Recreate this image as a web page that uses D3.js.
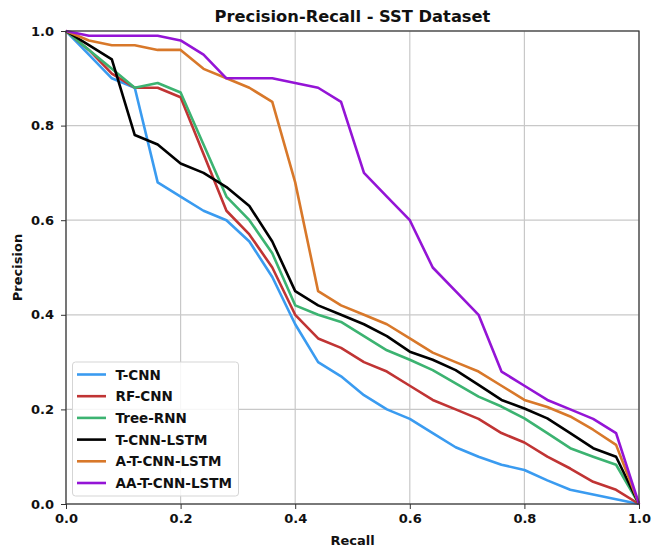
<!DOCTYPE html>
<html><head><meta charset="utf-8">
<script src="https://cdn.jsdelivr.net/npm/d3@7"></script>
<style>body{margin:0;background:#fff;} text{font-family:"DejaVu Sans",sans-serif;font-weight:bold;}</style>
</head><body>
<svg id="chart" width="665" height="549"></svg>
<script>
const recall = [0,0.04,0.08,0.12,0.16,0.2,0.24,0.28,0.32,0.36,0.4,0.44,0.48,0.52,0.56,0.6,0.64,0.68,0.72,0.76,0.8,0.84,0.88,0.92,0.96,1.0];
const seriesNames = ["T-CNN","RF-CNN","Tree-RNN","T-CNN-LSTM","A-T-CNN-LSTM","AA-T-CNN-LSTM"];
const tcnn    = [1.0,0.95,0.90,0.88,0.68,0.65,0.62,0.60,0.555,0.48,0.38,0.30,0.27,0.23,0.20,0.18,0.15,0.12,0.10,0.083,0.072,0.05,0.03,0.02,0.01,0.0];
const rfcnn   = [1.0,0.96,0.91,0.88,0.88,0.86,0.74,0.62,0.57,0.50,0.40,0.35,0.33,0.30,0.28,0.25,0.22,0.20,0.18,0.15,0.13,0.10,0.075,0.047,0.03,0.0];
const treernn = [1.0,0.96,0.92,0.88,0.89,0.87,0.76,0.65,0.60,0.53,0.42,0.40,0.385,0.355,0.325,0.305,0.283,0.255,0.227,0.206,0.181,0.15,0.118,0.10,0.083,0.0];
const tcnnlstm= [1.0,0.97,0.94,0.78,0.76,0.72,0.70,0.67,0.63,0.555,0.45,0.42,0.40,0.38,0.355,0.322,0.305,0.283,0.252,0.22,0.202,0.181,0.15,0.118,0.10,0.0];
const atcnn   = [1.0,0.98,0.97,0.97,0.96,0.96,0.92,0.90,0.88,0.85,0.68,0.45,0.42,0.40,0.38,0.35,0.32,0.30,0.28,0.25,0.22,0.205,0.185,0.157,0.125,0.0];
const aatcnn  = [1.0,0.99,0.99,0.99,0.99,0.98,0.95,0.90,0.90,0.90,0.89,0.88,0.85,0.70,0.65,0.60,0.50,0.45,0.40,0.28,0.25,0.22,0.20,0.18,0.15,0.0];
const seriesValues = [tcnn, rfcnn, treernn, tcnnlstm, atcnn, aatcnn];
const colors = ["#3a9bf0","#c03434","#3cb371","#000000","#d8782a","#9414d6"];
const ticks = [0,0.2,0.4,0.6,0.8,1.0];

const svg = d3.select("#chart");
const L=66, R=639, T=31, B=504;
const x = d3.scaleLinear().domain([0,1]).range([L,R]);
const y = d3.scaleLinear().domain([0,1]).range([B,T]);

// grid
const g = svg.append("g");
g.selectAll(".gx").data(ticks).enter().append("line")
  .attr("x1",d=>x(d)).attr("x2",d=>x(d)).attr("y1",T).attr("y2",B)
  .attr("stroke","#c8c8c8").attr("stroke-width",1.2);
g.selectAll(".gy").data(ticks).enter().append("line")
  .attr("y1",d=>y(d)).attr("y2",d=>y(d)).attr("x1",L).attr("x2",R)
  .attr("stroke","#c8c8c8").attr("stroke-width",1.2);

// lines
const line = d3.line().x((d,i)=>x(recall[i])).y(d=>y(d));
seriesValues.forEach((vals,k)=>{
  svg.append("path").datum(vals).attr("d",line)
    .attr("fill","none").attr("stroke",colors[k]).attr("stroke-width",2.6)
    .attr("stroke-linejoin","round");
});

// frame
svg.append("rect").attr("x",L).attr("y",T).attr("width",R-L).attr("height",B-T)
  .attr("fill","none").attr("stroke","#333").attr("stroke-width",1.2);

// axes
const fmt = d3.format(".1f");
const xa = svg.append("g").attr("transform",`translate(0,${B})`)
  .call(d3.axisBottom(x).tickValues(ticks).tickFormat(fmt).tickSize(5).tickPadding(5));
const ya = svg.append("g").attr("transform",`translate(${L},0)`)
  .call(d3.axisLeft(y).tickValues(ticks).tickFormat(fmt).tickSize(5).tickPadding(7));
[xa,ya].forEach(a=>{
  a.select(".domain").remove();
  a.selectAll("line").attr("stroke","#333");
  a.selectAll("text").attr("font-size",13).attr("fill","#111")
    .style("font-family","'DejaVu Sans',sans-serif").style("font-weight","bold");
});

// titles
svg.append("text").attr("x",(L+R)/2).attr("y",21.5).attr("text-anchor","middle")
  .attr("font-size",16.3).attr("fill","#111").text("Precision-Recall - SST Dataset");
svg.append("text").attr("x",(L+R)/2).attr("y",545).attr("text-anchor","middle")
  .attr("font-size",13).attr("fill","#111").text("Recall");
svg.append("text").attr("transform",`translate(22,${(T+B)/2}) rotate(-90)`).attr("text-anchor","middle")
  .attr("font-size",13).attr("fill","#111").text("Precision");

// legend
const lg = svg.append("g");
lg.append("rect").attr("x",72.5).attr("y",362).attr("width",166).attr("height",134).attr("rx",3)
  .attr("fill","rgba(255,255,255,0.85)").attr("stroke","#d5d5d5").attr("stroke-width",1);
seriesNames.forEach((n,k)=>{
  const yy = 374.5 + k*21.7;
  lg.append("line").attr("x1",77).attr("x2",106).attr("y1",yy).attr("y2",yy)
    .attr("stroke",colors[k]).attr("stroke-width",2.6);
  lg.append("text").attr("x",115.5).attr("y",yy+5).attr("font-size",13.5).attr("fill","#111").text(n);
});
</script>
</body></html>
